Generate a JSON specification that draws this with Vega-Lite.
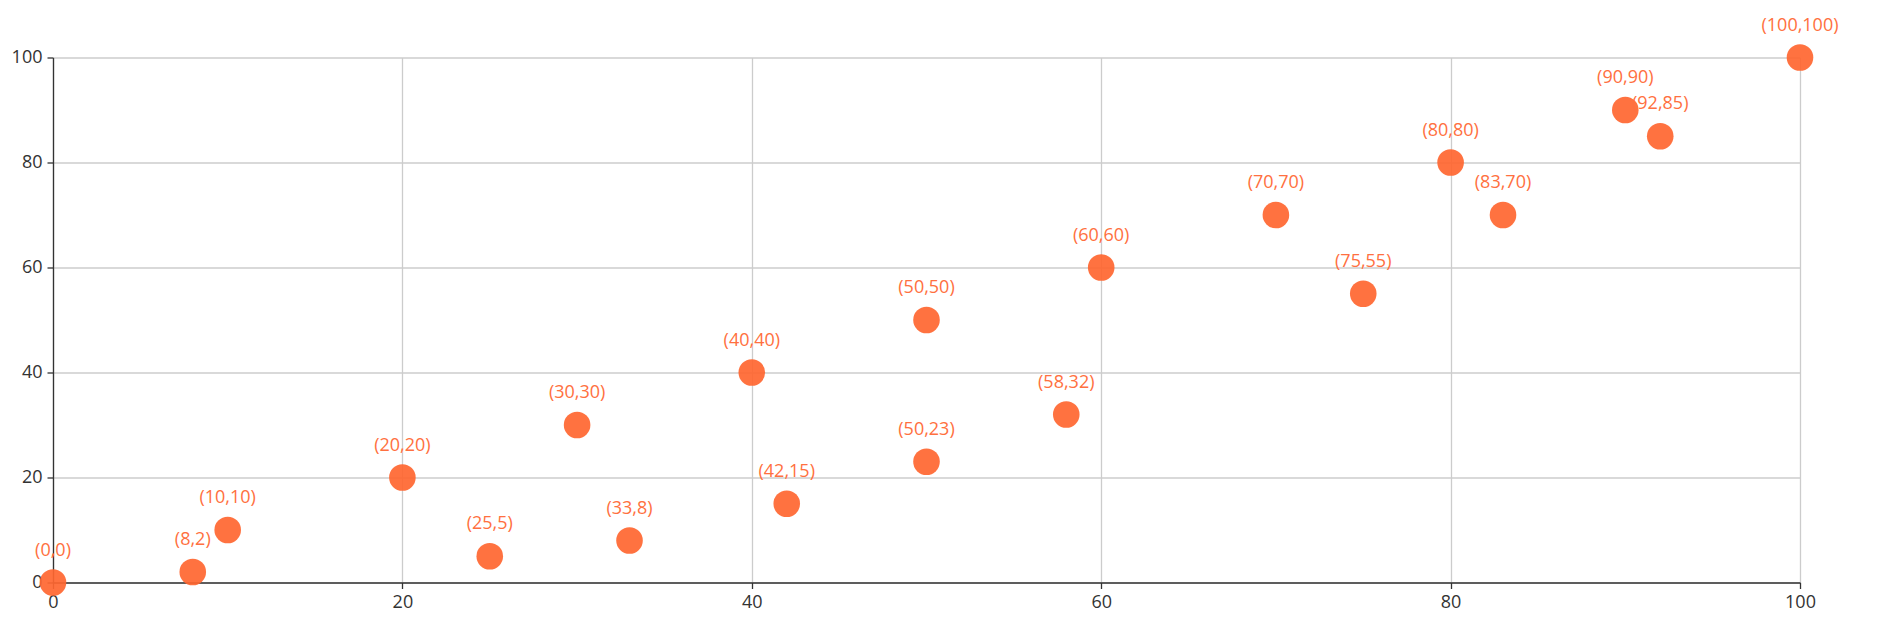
{
  "$schema": "https://vega.github.io/schema/vega-lite/v6.json",
  "autosize": {"type": "none"},
  "padding": {"left": 53, "top": 57.5, "right": 79, "bottom": 59.5},
  "width": 1747,
  "height": 525,
  "background": "white",
  "config": {"view": {"stroke": null}},
  "data": {"values": [
    {"x": 0, "y": 0, "label": "(0,0)"},
    {"x": 8, "y": 2, "label": "(8,2)"},
    {"x": 10, "y": 10, "label": "(10,10)"},
    {"x": 20, "y": 20, "label": "(20,20)"},
    {"x": 25, "y": 5, "label": "(25,5)"},
    {"x": 30, "y": 30, "label": "(30,30)"},
    {"x": 33, "y": 8, "label": "(33,8)"},
    {"x": 40, "y": 40, "label": "(40,40)"},
    {"x": 42, "y": 15, "label": "(42,15)"},
    {"x": 50, "y": 50, "label": "(50,50)"},
    {"x": 50, "y": 23, "label": "(50,23)"},
    {"x": 58, "y": 32, "label": "(58,32)"},
    {"x": 60, "y": 60, "label": "(60,60)"},
    {"x": 70, "y": 70, "label": "(70,70)"},
    {"x": 75, "y": 55, "label": "(75,55)"},
    {"x": 80, "y": 80, "label": "(80,80)"},
    {"x": 83, "y": 70, "label": "(83,70)"},
    {"x": 90, "y": 90, "label": "(90,90)"},
    {"x": 92, "y": 85, "label": "(92,85)"},
    {"x": 100, "y": 100, "label": "(100,100)"}
  ]},
  "encoding": {
    "x": {"field": "x", "type": "quantitative", "scale": {"domain": [0, 100], "nice": false, "zero": false},
      "axis": {"title": null, "values": [0, 20, 40, 60, 80, 100], "grid": true, "gridColor": "#cccccc", "gridWidth": 1.3,
        "domainColor": "#333333", "domainWidth": 1.3, "tickColor": "#333333", "tickSize": 6, "tickWidth": 1.3,
        "labelColor": "#333333", "labelFont": "Open Sans", "labelFontSize": 18, "labelPadding": 5, "labelFlush": false}},
    "y": {"field": "y", "type": "quantitative", "scale": {"domain": [0, 100], "nice": false, "zero": false},
      "axis": {"title": null, "values": [0, 20, 40, 60, 80, 100], "grid": true, "gridColor": "#cccccc", "gridWidth": 1.3,
        "domainColor": "#333333", "domainWidth": 1.3, "tickColor": "#333333", "tickSize": 6, "tickWidth": 1.3,
        "labelColor": "#333333", "labelFont": "Open Sans", "labelFontSize": 18, "labelPadding": 5, "labelFlush": false}}
  },
  "layer": [
    {"mark": {"type": "circle", "size": 707, "color": "#ff6630", "opacity": 0.92}},
    {"mark": {"type": "text", "color": "#ff7040", "font": "Open Sans", "fontSize": 18, "dy": -27, "baseline": "alphabetic", "align": "center"},
      "encoding": {"text": {"field": "label", "type": "nominal"}}}
  ]
}
